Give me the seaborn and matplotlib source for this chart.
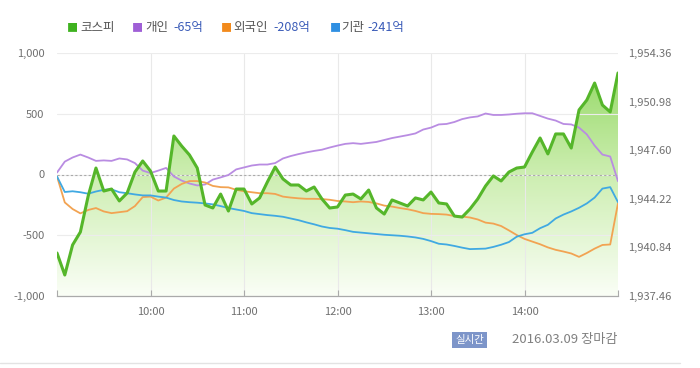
import matplotlib
matplotlib.use("Agg")

import numpy as np
import pandas as pd
import matplotlib.pyplot as plt
import matplotlib.dates as mdates
import seaborn as sns
from matplotlib.colors import LinearSegmentedColormap
from matplotlib.lines import Line2D


# ==========================================================================================
# 데이터 (2016.03.09, 5분 간격)
# ==========================================================================================

times = pd.date_range("2016-03-09 09:00", "2016-03-09 15:00", freq="5min")

kospi = [
    1940.45, 1938.92, 1941.01, 1941.91, 1944.41, 1946.36, 1944.76, 1944.90, 1944.07, 1944.62,
    1946.08, 1946.85, 1946.15, 1944.76, 1944.76, 1948.59, 1947.89, 1947.27, 1946.36, 1943.79,
    1943.58, 1944.55, 1943.37, 1944.90, 1944.90, 1943.86, 1944.28, 1945.39, 1946.43, 1945.60,
    1945.18, 1945.18, 1944.76, 1945.04, 1944.21, 1943.58, 1943.65, 1944.48, 1944.55, 1944.21,
    1944.83, 1943.58, 1943.16, 1944.14, 1943.93, 1943.72, 1944.28, 1944.14, 1944.69, 1943.93,
    1943.86, 1943.02, 1942.95, 1943.51, 1944.21, 1945.11, 1945.81, 1945.46, 1946.08, 1946.36,
    1946.43, 1947.47, 1948.45, 1947.34, 1948.73, 1948.73, 1947.75, 1950.40, 1951.09, 1952.27,
    1950.74, 1950.26, 1952.97,
]

individual = [
    16, 106, 140, 164, 140, 112, 116, 112, 132, 124,
    94, 32, 12, 32, 54, -16, -50, -74, -90, -82,
    -42, -24, -4, 42, 58, 74, 82, 82, 94, 132,
    152, 168, 182, 194, 204, 222, 238, 252, 258, 252,
    260, 268, 284, 300, 312, 324, 338, 370, 386, 412,
    416, 432, 456, 470, 478, 502, 490, 490, 494, 500,
    504, 504, 482, 460, 444, 416, 412, 386, 330, 238,
    164, 148, -55,
]

foreign = [
    -16, -230, -284, -320, -292, -276, -304, -318, -310, -302,
    -260, -186, -182, -214, -190, -116, -78, -54, -54, -66,
    -94, -104, -106, -126, -138, -146, -154, -154, -160, -182,
    -190, -196, -200, -200, -202, -208, -218, -222, -228, -222,
    -226, -238, -256, -264, -276, -286, -300, -318, -324, -326,
    -330, -342, -346, -354, -370, -396, -404, -424, -460, -498,
    -530, -552, -574, -600, -620, -634, -650, -678, -646, -610,
    -580, -576, -236,
]

institution = [
    -16, -144, -138, -146, -158, -140, -126, -122, -146, -154,
    -164, -172, -172, -182, -190, -210, -222, -228, -232, -238,
    -246, -260, -276, -288, -300, -318, -326, -334, -340, -348,
    -362, -376, -394, -410, -428, -440, -446, -458, -472, -478,
    -484, -490, -496, -500, -504, -510, -518, -530, -548, -570,
    -576, -588, -602, -614, -612, -610, -596, -578, -556, -512,
    -492, -480, -442, -414, -362, -330, -304, -274, -238, -190,
    -116, -104, -228,
]

left_ticks = [-1000, -500, 0, 500, 1000]
left_labels = ["-1,000", "-500", "0", "500", "1,000"]
right_ticks = [1937.46, 1940.84, 1944.22, 1947.60, 1950.98, 1954.36]

legend_names = ["코스피", "개인", "외국인", "기관"]
legend_nets = ["", "-65억", "-208억", "-241억"]


# ==========================================================================================
# 스타일
# ==========================================================================================

sns.set_theme(style="white")
plt.rcParams["font.family"] = ["Noto Sans CJK KR", "DejaVu Sans"]
plt.rcParams["axes.unicode_minus"] = False

GREEN = "#55b62a"
PURPLE = "#b98ce2"
ORANGE = "#f2a352"
BLUE = "#40a9e2"
LEGEND_COLORS = ["#3fb21f", "#9f5fd6", "#f28a1c", "#2f8fe2"]
TICK_COLOR = "#707070"

df = pd.DataFrame({
    "time": times,
    "kospi": kospi,
    "individual": individual,
    "foreign": foreign,
    "institution": institution,
})


# ==========================================================================================
# 그리기
# ==========================================================================================

fig, ax = plt.subplots(figsize=(7, 3.68), dpi=100)
fig.subplots_adjust(left=57 / 700, right=618 / 700, bottom=1 - 296 / 368, top=1 - 53 / 368)
ax2 = ax.twinx()

# 코스피 아래 그라데이션 영역
area = ax2.fill_between(df["time"], df["kospi"], right_ticks[0], facecolor="none", lw=0)
cmap = LinearSegmentedColormap.from_list("kospi_fill", ["#fafef6", "#cdeeb1", "#8ed65d"])
grad = np.linspace(0, 1, 256).reshape(-1, 1)
im = ax.imshow(grad, cmap=cmap, origin="lower", extent=[0, 1, 0, 1],
               transform=ax.transAxes, aspect="auto", zorder=0.2)
im.set_clip_path(area.get_paths()[0], transform=ax2.transData)

ax.axhline(0, color="#aaaaaa", lw=0.8, ls=(0, (2, 2)), zorder=1)

sns.lineplot(data=df, x="time", y="individual", ax=ax, color=PURPLE, lw=1.3)
sns.lineplot(data=df, x="time", y="foreign", ax=ax, color=ORANGE, lw=1.3)
sns.lineplot(data=df, x="time", y="institution", ax=ax, color=BLUE, lw=1.3)
sns.lineplot(data=df, x="time", y="kospi", ax=ax2, color=GREEN, lw=2.2)

ax.set_xlim(times[0], times[-1])
ax.set_ylim(left_ticks[0], left_ticks[-1])
ax2.set_ylim(right_ticks[0], right_ticks[-1])

ax.set_yticks(left_ticks, left_labels)
ax2.set_yticks(right_ticks, [f"{v:,.2f}" for v in right_ticks])

ax.xaxis.set_major_locator(mdates.HourLocator(byhour=range(10, 15)))
ax.xaxis.set_major_formatter(mdates.DateFormatter("%H:%M"))
ax.xaxis.set_minor_locator(mdates.HourLocator(byhour=[9, 15]))

ax.grid(axis="x", which="major", color="#e9e9e9", lw=0.8)
ax.grid(axis="y", color="#ececec", lw=0.8)

ax.set_xlabel("")
ax.set_ylabel("")
ax2.set_ylabel("")

ax.tick_params(axis="x", which="both", bottom=True, direction="in", length=4,
               width=0.8, color="#aaaaaa", labelsize=8, labelcolor=TICK_COLOR, pad=8)
ax.tick_params(axis="y", left=False, length=0, labelsize=8, labelcolor=TICK_COLOR, pad=9)
ax2.tick_params(axis="y", right=False, length=0, labelsize=8, labelcolor=TICK_COLOR, pad=7.5)

for spine in ["top", "left", "right"]:
    ax.spines[spine].set_visible(False)
ax.spines["bottom"].set_color("#aaaaaa")
ax.spines["bottom"].set_linewidth(0.9)
for spine in ax2.spines.values():
    spine.set_visible(False)


# ==========================================================================================
# 범례 및 하단 문구
# ==========================================================================================

legend_y = 1 - 28 / 368
square_x = [67, 132, 221, 330]
name_x = [80, 145, 233, 341]
net_x = [None, 173, 273, 367]
for color, name, net, sx, nx, vx in zip(LEGEND_COLORS, legend_names, legend_nets,
                                        square_x, name_x, net_x):
    fig.text(sx / 700, legend_y, "■", color=color, fontsize=8, ha="left", va="center")
    fig.text(nx / 700, legend_y, name, color="#555555", fontsize=9, ha="left", va="center")
    if net:
        fig.text(vx / 700, legend_y, net, color="#3b5cb8", fontsize=9, ha="left", va="center")

fig.text(469.5 / 700, 1 - 340 / 368, "실시간", color="white", fontsize=7.5,
         ha="center", va="center",
         bbox=dict(boxstyle="square,pad=0.25", facecolor="#7d95c9", edgecolor="none"))
fig.text(618 / 700, 1 - 340 / 368, "2016.03.09 장마감", color="#808080", fontsize=9.5,
         ha="right", va="center")

fig.add_artist(Line2D([0, 680 / 700], [1 - 363 / 368, 1 - 363 / 368],
                      transform=fig.transFigure, color="#e3e3e3", lw=1))

fig.savefig("out.png", dpi=100)
plt.close(fig)
